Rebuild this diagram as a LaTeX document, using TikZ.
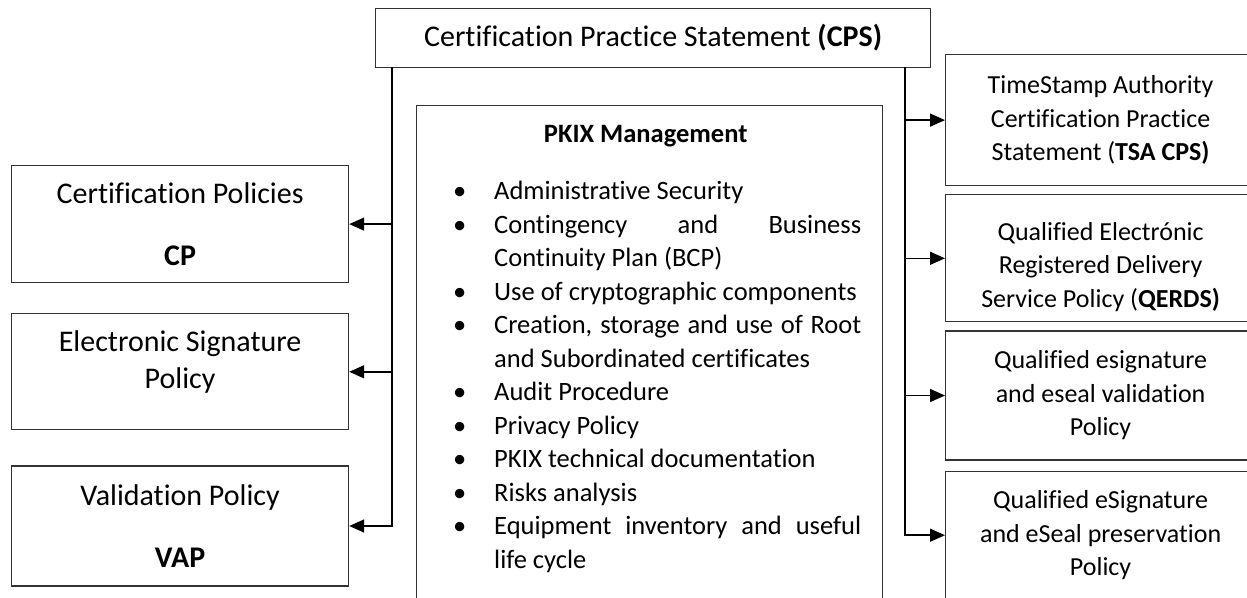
\documentclass[tikz,border=0pt]{standalone}
\usepackage{fontspec}
\setmainfont{Carlito}[Ligatures=CommonOff]
\usetikzlibrary{positioning, arrows.meta}
\tikzset{
    cpsbox/.style={rectangle, draw=black!80, line width=1.2pt, minimum width=555pt, minimum height=59pt, inner sep=0pt, font=\fontsize{30}{36.6}\selectfont},
    lbox/.style={rectangle, draw=black!80, line width=1.2pt, minimum width=337pt, inner sep=0pt, align=center, font=\fontsize{30}{36.6}\selectfont},
    rbox/.style={rectangle, draw=black!80, line width=1.2pt, minimum width=310pt, inner sep=0pt, align=center, font=\fontsize{26}{33.5}\selectfont},
    mgmtbox/.style={rectangle, draw=black!80, line width=1.2pt, minimum width=466pt, minimum height=515pt, inner sep=0pt},
    mgmttext/.style={text width=431pt, inner sep=0pt, align=justify, font=\fontsize{26.5}{33.5}\selectfont},
    link/.style={line width=1.5pt, -{Triangle[length=15pt, width=13pt]}},
}

\begin{document}
\begin{tikzpicture}[x=1pt, y=-1pt]
    \useasboundingbox (0,0) rectangle (1247,597);
    \node [cpsbox, anchor=north west] (cps) at (375,8) {Certification Practice Statement \textbf{(CPS)}};
    \node [lbox, minimum height=117pt, anchor=north west] (cp) at (11,165) {Certification Policies\\[25pt]\textbf{CP}};
    \node [lbox, minimum height=116pt, below=30pt of cp] (esp) {Electronic Signature\\Policy\\[-12pt]\mbox{}};
    \node [lbox, minimum height=120pt, below=35pt of esp] (vap) {Validation Policy\\[25pt]\textbf{VAP}};
    \node [rbox, minimum height=131pt, anchor=north west] (tsa) at (945,54) {TimeStamp Authority\\Certification Practice\\Statement (\textbf{TSA CPS)}};
    \node [rbox, minimum height=127pt, below=8pt of tsa] (qerds) {\mbox{}\\[2pt]Qualified Electrónic\\Registered Delivery\\Service Policy (\textbf{QERDS)}};
    \node [rbox, minimum height=129pt, below=8pt of qerds] (sigval) {Qualified esignature\\and eseal validation\\Policy};
    \node [rbox, minimum height=128pt, below=10pt of sigval] (sigpres) {Qualified eSignature\\and eSeal preservation\\Policy};
    \node [mgmtbox, anchor=north west] (pkixbox) at (416,105) {};
    \node [mgmttext, anchor=north west] (pkix) at ([xshift=14pt, yshift=-20.5pt]pkixbox.north west) {%
        \hyphenpenalty=10000 \tolerance=10000 \parskip=0pt
        {\centering\bfseries PKIX Management\par}
        \begin{list}{\textbullet}{\setlength{\leftmargin}{64pt}\setlength{\labelsep}{28pt}\setlength{\labelwidth}{36pt}%
            \setlength{\itemsep}{0pt}\setlength{\parsep}{0pt}\setlength{\topsep}{23.5pt}\setlength{\partopsep}{0pt}}
        \item Administrative Security
        \item Contingency and Business Continuity Plan (BCP)
        \item Use of cryptographic components
        \item Creation, storage and use of Root and Subordinated certificates
        \item Audit Procedure
        \item Privacy Policy
        \item PKIX technical documentation
        \item Risks analysis
        \item Equipment inventory and useful life cycle
        \end{list}};
    \coordinate (lbus) at (392,67);
    \coordinate (rbus) at (905,67);
    \draw[link] (lbus) |- (vap.east);
    \draw[link] (lbus |- cp.east) -- (cp.east);
    \draw[link] (lbus |- esp.east) -- (esp.east);
    \draw[link] (rbus) |- (sigpres.west);
    \draw[link] (rbus |- tsa.west) -- (tsa.west);
    \draw[link] (rbus |- qerds.west) -- (qerds.west);
    \draw[link] (rbus |- sigval.west) -- (sigval.west);
\end{tikzpicture}
\end{document}
